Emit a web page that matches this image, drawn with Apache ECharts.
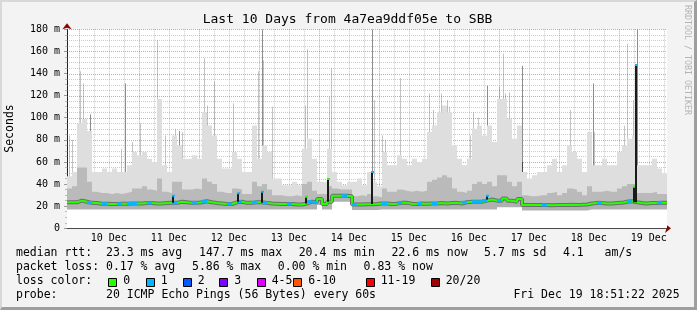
<!DOCTYPE html>
<html><head><meta charset="utf-8">
<script src="https://cdn.jsdelivr.net/npm/echarts@6/dist/echarts.min.js"></script>
<style>
html,body{margin:0;padding:0;background:#f3f3f3;}
#frame{position:absolute;left:0;top:0;width:697px;height:310px;box-sizing:border-box;background:#f3f3f3;border-top:2px solid #d8d8d8;border-left:2px solid #d8d8d8;border-right:3px solid #9e9e9e;border-bottom:3px solid #9e9e9e;}
#chart{position:absolute;left:0;top:0;width:697px;height:310px;}
</style></head><body><div id="frame"></div><div id="chart"></div>
<script>
// time axis in hours relative to Dec 10 00:00, 2-hour buckets
const START = -4.7, STEP = 2, END = 235.3;
const dayLabels = ['10 Dec','11 Dec','12 Dec','13 Dec','14 Dec','15 Dec','16 Dec','17 Dec','18 Dec','19 Dec'];
const dayLabelHours = [12,36,60,84,108,132,156,180,204,228];

// smoke: lower edge, median, 75th-ish, upper envelope (ms)
const lo = [
17,17,17,17,17,17,17,17,17,17,
17,17,17,17,17,17,17,17,17,17,
17,17,17,17,17,17,17,17,17,17,
17,17,17,17,17,17,17,17,17,17,
17,17,17,17,17,17,17,17,17,17,
21,17,17,24,24,24,24,16.5,16.5,16.5,
16.5,16.5,17,17,17,17,17,17,17,17,
17,17,17,17,17,17,17,17,17,17,
17,17,17,17,17,17,19,19,19,19,
19,16,16,16,16,16,16,16,16,16,
16,16,16,16,17,17,17,17,17,17,
17,17,17,17,17,17,17,17,17,17];
const med = [
23.5,23.5,25,24,23,22.8,22.3,22.3,22,22,
22.3,22.3,22.5,22.5,22.5,22.8,22.8,22.5,22.5,22.8,
23,23,24,23.5,23,23,23.5,24.5,23.5,22.8,
22.5,22,22,23.5,24,23,23,23.5,23.5,23,
22.5,22.3,22,22,22,21.5,21.5,22.5,24,23.5,
26.5,22,24,29.5,29.5,29.5,29,21.5,21.5,21.8,
21.8,22,22.5,22.5,22,22.3,23,23,22.3,22,
22.5,22.3,22.5,22.5,22.8,22.5,22.8,23,22.5,23.5,
24,24,24,25,26,25,25,27,25,24,
26.5,21,21,21,21,21,20.8,21,21,21,
21.2,21,21.2,21.5,22.5,23,22.8,22.5,22.5,22.8,
23,24,24.5,23.5,22.8,22.5,22.8,22.8,23,23];
const p75 = [
36,38,55,55,42,33,32,32,31,32,
31,32,33,36,36,38,35,34,45,33,
32,42,42,35,35,36,35,45,42,40,
33,32,32,36,35,31,31,42,38,40,
35,30,30,29,29,30,29,40,42,34,
31,31,38,36,35,35,35,29,30,29,
31,29,28,36,33,33,35,34,33,34,
33,34,42,44,46,48,46,36,33,32,
34,40,42,40,42,38,48,48,42,38,
42,30,29,29,30,30,32,33,30,32,
36,35,33,30,38,33,33,34,33,33,
36,38,40,40,32,32,32,33,31,31];
const hi = [
47,51,95,99,88,51,51,54,51,54,
51,51,57,69,66,69,63,60,117,57,
51,84,75,63,63,66,63,105,93,84,
63,54,54,69,63,51,51,93,63,75,
69,45,45,39,39,42,39,72,81,63,
42,42,72,51,42,39,42,42,45,39,
51,42,38,69,57,57,66,63,57,63,
60,63,87,93,105,111,105,75,63,57,
63,90,93,84,93,78,117,117,99,81,
93,51,45,48,51,51,57,63,51,57,
75,69,63,51,87,57,57,63,57,57,
69,75,81,84,57,57,57,63,54,50];
// loss colour index per bucket (0 = 0 lost, 1 = 1 lost)
const loss = [
0,0,0,0,1,0,0,1,0,0,
1,0,1,1,0,0,1,0,0,0,
0,1,0,0,0,1,0,1,0,0,
0,0,1,0,1,0,0,1,0,1,
0,0,0,0,1,0,0,0,1,1,
0,0,0,0,0,1,0,1,0,0,
0,0,0,1,0,0,1,0,0,0,
1,0,0,1,0,0,0,0,0,1,
0,1,1,1,0,0,1,0,0,0,
0,0,0,0,0,1,0,0,0,0,
0,0,0,0,0,0,1,0,0,0,
0,0,1,0,0,0,0,0,1,0];
// thin smoke spikes: [hour, top ms, shade]
const spikes = [
[-3.9,84,0],[-2.7,80,0],[0.5,142,0],[1.7,131,0],[4.5,103,1],[4.9,81,0],[16.9,72,0],[18.6,131,1],
[21.3,78,0],[24.6,95,0],[31.2,170,0],[34.5,84,0],[38.5,90,0],[40.0,88,1],[41.3,87,0],[50.1,154,0],
[51.3,111,0],[54.1,133,0],[61.7,113,0],[63.8,60,1],[71.7,142,0],[73.4,180,1],[73.7,152,0],[77.2,110,0],
[90.5,111,0],[91.3,162,0],[100.2,119,0],[100.9,145,0],[117.4,180,1],[118.1,116,0],[121.3,84,0],[122.5,80,0],
[128.5,136,0],[140.2,122,0],[141.7,107,0],[144.8,122,0],[147.2,116,0],[148.1,110,0],[156.5,84,0],[157.7,105,0],
[159.7,100,0],[163.2,129,1],[168.1,128,0],[169.6,158,0],[170.5,122,0],[172.1,123,0],[177.2,147,1],[196.5,107,0],
[205.6,131,1],[206.1,87,0],[218.1,93,0],[219.2,167,0],[221.6,116,0],[223.2,180,1],
[4.3,60,2],[18.6,50,2],[40.0,55,2],[63.8,45,2],[91.3,40,2],[163.2,40,2],[177.2,60,2],[205.6,45,2],[219.2,45,2]];
// short median excursions: [hour, median ms, loss index]
const medSpikes = [[37.8,29.5,1],[63.8,31.6,1],[73.3,33,1],[90.9,28.6,0],[99.6,44.6,0],[117.4,51,1],[163.3,29.5,1],[222.2,37.6,0],[223.0,147.7,1]];

const lossColors = ['#26ff00','#00b8ff','#0059ff','#7e00ff','#dd00ff','#ff5500','#ff0000','#a10000'];
const lossLabels = ['0','1','2','3','4-5','6-10','11-19','20/20'];
const shadeColors = ['#c4c4c4','#8e8e8e','#4a4a4a'];

const FONT = '"DejaVu Sans Mono", monospace';
const hours = lo.map((_, i) => START + i * STEP);
function stepData(arr) {
  const d = arr.map((v, i) => [hours[i], v]);
  d.push([END, arr[arr.length - 1]]);
  return d;
}
function bucketMed(h) {
  const i = Math.max(0, Math.min(med.length - 1, Math.floor((h - START) / STEP)));
  return med[i];
}
const vGrid = [];
for (let h = 0; h <= 234; h += 6) vGrid.push([h, 0]);
const hGrid = [];
for (let v = 5; v <= 180; v += 5) hGrid.push([START, v]);
const RED = 'rgba(255,40,40,0.5)', GRAY = 'rgba(130,130,130,0.42)';
const lossSegData = [];
med.forEach((v, i) => { if (loss[i] > 0) lossSegData.push([hours[i], v, loss[i]]); });

function area(name, data, color) {
  return {type: 'line', name, step: 'end', symbol: 'none', data: stepData(data),
    lineStyle: {width: 0}, areaStyle: {color, opacity: 1, origin: 'start'}, silent: true};
}

const graphic = [];
graphic.push({type: 'text', x: 347.5, y: 19.5, style: {text: 'Last 10 Days from 4a7ea9ddf05e to SBB', font: '13px ' + FONT, fill: '#000', align: 'center', verticalAlign: 'middle'}});
graphic.push({type: 'text', x: 10, y: 128.5, rotation: Math.PI / 2, style: {text: 'Seconds', font: '11.5px ' + FONT, fill: '#000', align: 'center', verticalAlign: 'middle'}});
graphic.push({type: 'text', x: 687.5, y: 60, rotation: -Math.PI / 2, style: {text: 'RRDTOOL / TOBI OETIKER', font: '8.3px ' + FONT, fill: '#b4b4b4', align: 'center', verticalAlign: 'middle'}});
const rows = [
  [253.5, [[16,'median rtt:  23.3 ms avg'],[199,'147.7 ms max'],[298.7,'20.4 ms min'],[391.4,'22.6 ms now'],[484.1,'5.7 ms sd'],[563,'4.1   am/s']]],
  [267.5, [[16,'packet loss: 0.17 % avg'],[192,'5.86 % max'],[277.8,'0.00 % min'],[363.6,'0.83 % now']]],
  [281.5, [[16,'loss color:']]],
  [295.5, [[16,'probe:       20 ICMP Echo Pings (56 Bytes) every 60s'],[513.4,'Fri Dec 19 18:51:22 2025']]]
];
rows.forEach(([y, items]) => items.forEach(([x, t]) => graphic.push({type: 'text', x, y, style: {text: t, font: '11.5px ' + FONT, fill: '#000', align: 'left', verticalAlign: 'middle'}})));
const boxX = [108.3, 145.7, 182.7, 219.3, 256.7, 293.3, 365.7, 430.7];
boxX.forEach((x, i) => {
  graphic.push({type: 'rect', shape: {x: Math.round(x) + 0.5, y: 278.5, width: 8, height: 8}, style: {fill: lossColors[i], stroke: '#000', lineWidth: 1}});
  graphic.push({type: 'text', x: x + 15, y: 281.5, style: {text: lossLabels[i], font: '11.5px ' + FONT, fill: '#000', align: 'left', verticalAlign: 'middle'}});
});

const chart = echarts.init(document.getElementById('chart'), null, {renderer: 'canvas'});
chart.setOption({
  animation: false,
  backgroundColor: 'transparent',
  grid: {left: 67, right: 30, top: 29.3, bottom: 81.7, show: true, backgroundColor: '#fff', borderWidth: 0},
  xAxis: [{
    type: 'value', min: START, max: END,
    axisLine: {show: true, onZero: false, lineStyle: {color: '#222', width: 1}},
    axisTick: {show: false}, splitLine: {show: false},
    axisLabel: {customValues: dayLabelHours, formatter: v => dayLabels[dayLabelHours.indexOf(Math.round(v))] || '',
      fontFamily: 'DejaVu Sans Mono', fontSize: 10, color: '#000', margin: 5}
  }, {
    type: 'value', min: START, max: END, position: 'bottom',
    axisLine: {show: true, onZero: false, symbol: ['none', 'arrow'], symbolSize: [7, 6], symbolOffset: [0, 4], lineStyle: {color: '#8b0000', width: 0}},
    axisTick: {show: false}, axisLabel: {show: false}, splitLine: {show: false}
  }],
  yAxis: [{
    type: 'value', min: 0, max: 180, interval: 20,
    axisLine: {show: true, onZero: false, lineStyle: {color: '#222', width: 1}},
    axisTick: {show: true, length: 3, lineStyle: {color: '#999'}},
    minorTick: {show: true, splitNumber: 4, length: 2, lineStyle: {color: '#bbb'}},
    splitLine: {show: false},
    axisLabel: {formatter: v => v === 0 ? '0' : v + ' m', fontFamily: 'DejaVu Sans Mono', fontSize: 10, color: '#000', margin: 7}
  }, {
    type: 'value', min: 0, max: 180, position: 'left',
    axisLine: {show: true, onZero: false, symbol: ['none', 'arrow'], symbolSize: [7, 6], symbolOffset: [0, 6], lineStyle: {color: '#8b0000', width: 0}},
    axisTick: {show: false}, axisLabel: {show: false}, splitLine: {show: false}
  }],
  graphic,
  series: [
    area('hi', hi, '#dedede'),
    area('p75', p75, '#bababa'),
    area('med', med, '#b0b0b0'),
    area('lo', lo, '#ffffff'),
    {type: 'custom', name: 'spikes', data: spikes, encode: {x: 0, y: 1}, clip: true, silent: true,
      renderItem(params, api) {
        const h = api.value(0), t = api.value(1), s = api.value(2);
        const a = api.coord([h, bucketMed(h)]), b = api.coord([h, t]);
        const x = Math.round(a[0]) + 0.5;
        return {type: 'line', shape: {x1: x, y1: a[1], x2: x, y2: b[1]}, style: {stroke: shadeColors[s], lineWidth: 1}};
      }},
    {type: 'custom', name: 'vgrid', data: vGrid, encode: {x: 0, y: 1}, silent: true,
      renderItem(params, api) {
        const h = api.value(0), cs = params.coordSys;
        const x = Math.round(api.coord([h, 0])[0]) + 0.5;
        return {type: 'line', shape: {x1: x, y1: cs.y, x2: x, y2: cs.y + cs.height}, style: {stroke: h % 24 === 0 ? RED : GRAY, lineWidth: 1, lineDash: [1, 1]}};
      }},
    {type: 'custom', name: 'hgrid', data: hGrid, encode: {x: 0, y: 1}, silent: true,
      renderItem(params, api) {
        const v = api.value(1), cs = params.coordSys;
        const y = Math.round(api.coord([START, v])[1]) + 0.5;
        return {type: 'line', shape: {x1: cs.x, y1: y, x2: cs.x + cs.width, y2: y}, style: {stroke: v % 20 === 0 ? RED : GRAY, lineWidth: 1, lineDash: [1, 1]}};
      }},
    {type: 'line', name: 'medband', step: 'end', symbol: 'none', data: stepData(med), lineStyle: {color: '#6e6e6e', width: 4}, silent: true},
    {type: 'line', name: 'median', step: 'end', symbol: 'none', data: stepData(med), lineStyle: {color: lossColors[0], width: 2}, silent: true},
    {type: 'custom', name: 'lossSeg', z: 4, encode: {x: 0, y: 1}, clip: true, silent: true,
      dimensions: ['h', 'v', 'l'], data: lossSegData,
      renderItem(params, api) {
        const h = api.value(0), v = api.value(1), l = api.value(2);
        const a = api.coord([h, v]), b = api.coord([h + STEP, v]);
        return {type: 'rect', shape: {x: a[0], y: a[1] - 1.5, width: b[0] - a[0], height: 3}, style: {fill: lossColors[l] || lossColors[1]}};
      }},
    {type: 'custom', name: 'medSpikes', z: 5, encode: {x: 0, y: 1}, clip: true, silent: true, data: medSpikes,
      renderItem(params, api) {
        const h = api.value(0), v = api.value(1), l = api.value(2);
        const a = api.coord([h, bucketMed(h)]), b = api.coord([h, v]);
        const x = Math.round(a[0]);
        return {type: 'group', children: [
          {type: 'rect', shape: {x: x - 1, y: b[1], width: 2, height: a[1] - b[1]}, style: {fill: '#1a1a1a'}},
          {type: 'rect', shape: {x: x - 1, y: b[1] - 1, width: 3, height: 2}, style: {fill: lossColors[l]}}
        ]};
      }}
  ]
});
</script></body></html>
